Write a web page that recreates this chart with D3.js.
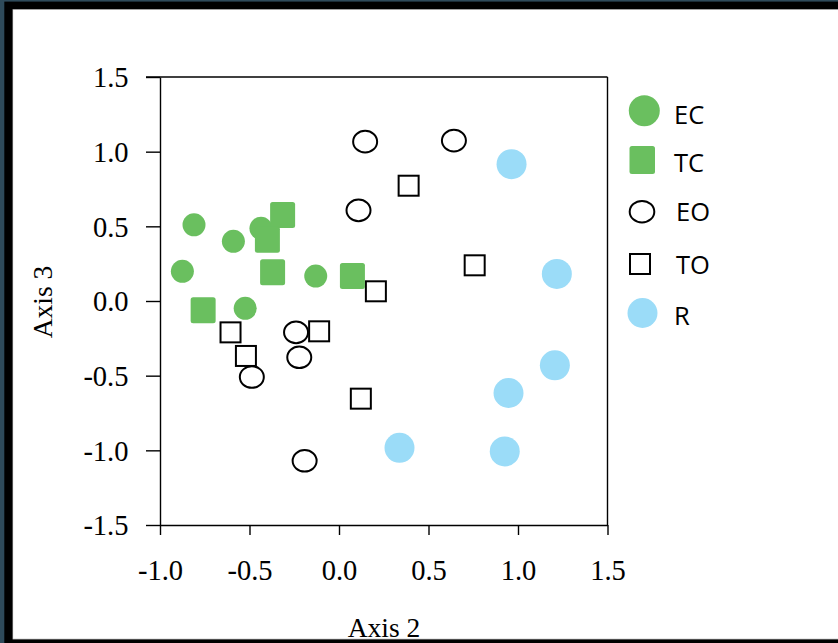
<!DOCTYPE html>
<html><head><meta charset="utf-8">
<script src="https://cdn.jsdelivr.net/npm/d3@7"></script>
<style>html,body{margin:0;padding:0;background:#fff;}svg{display:block;}</style>
</head><body>
<script>
// ---- data ----
const ecX = [-0.81, -0.59, -0.436, -0.875, -0.13, -0.524];
const ecY = [0.51, 0.40, 0.487, 0.199, 0.167, -0.049];
const tcX = [-0.315, -0.40, -0.371, 0.075, -0.759];
const tcY = [0.576, 0.41, 0.192, 0.167, -0.062];
const eoX = [0.146, 0.642, 0.109, -0.24, -0.222, -0.487, -0.192];
const eoY = [1.067, 1.074, 0.607, -0.21, -0.377, -0.509, -1.07];
const toX = [0.389, 0.758, 0.206, -0.606, -0.52, -0.111, 0.122];
const toY = [0.772, 0.239, 0.065, -0.21, -0.368, -0.203, -0.654];
const rX = [0.964, 1.217, 1.206, 0.947, 0.338, 0.926];
const rY = [0.916, 0.181, -0.431, -0.616, -0.983, -1.007];
const xTicks = [-1.0, -0.5, 0.0, 0.5, 1.0, 1.5];
const yTicks = [-1.5, -1.0, -0.5, 0.0, 0.5, 1.0, 1.5];
const legendLabels = ["EC", "TC", "EO", "TO", "R"];
const xTitle = "Axis 2";
const yTitle = "Axis 3";

const GREEN = "#6abf5f", BLUE = "#9bdcf8";
const W = 838, H = 643;
const svg = d3.select("body").append("svg").attr("width", W).attr("height", H);

// frame
svg.append("rect").attr("x",0).attr("y",0).attr("width",W).attr("height",H).attr("fill","#2e4a5a");
svg.append("rect").attr("x",4.3).attr("y",1.6).attr("width",W).attr("height",H).attr("fill","#000");
svg.append("rect").attr("x",12.6).attr("y",9.2).attr("width",W).attr("height",630.2).attr("fill","#c8c8c8");
svg.append("rect").attr("x",13.2).attr("y",10).attr("width",W).attr("height",628.6).attr("fill","#fff");

const x = d3.scaleLinear().domain([-1, 1.5]).range([160, 607.5]);
const y = d3.scaleLinear().domain([-1.5, 1.5]).range([525, 77]);
const fmt = v => d3.format(".1f")(v).replace("\u2212", "-");

const serif = "'Liberation Serif','Times New Roman',serif";

// axes
const gy = svg.append("g").attr("transform", "translate(160,0)")
  .call(d3.axisLeft(y).tickValues(yTicks).tickFormat(fmt).tickSize(14).tickSizeOuter(0));
gy.selectAll("text").attr("x", -31.5).attr("dy", "0.34em")
  .attr("font-family", serif).attr("font-size", 28.5).attr("fill", "#000");
const gx = svg.append("g").attr("transform", "translate(0,525)")
  .call(d3.axisBottom(x).tickValues(xTicks).tickFormat(fmt).tickSize(10).tickSizeOuter(0));
gx.selectAll("text").attr("y", 55).attr("dy", 0)
  .attr("font-family", serif).attr("font-size", 28.5).attr("fill", "#000");
svg.selectAll(".domain, .tick line").attr("stroke", "#000").attr("stroke-width", 1.4);

// top & right box lines
svg.append("line").attr("x1", 146).attr("x2", x(1.5)).attr("y1", y(1.5)).attr("y2", y(1.5))
  .attr("stroke", "#000").attr("stroke-width", 1.4);
svg.append("line").attr("x1", x(1.5)).attr("x2", x(1.5)).attr("y1", y(1.5)).attr("y2", y(-1.5))
  .attr("stroke", "#000").attr("stroke-width", 1.4);

// titles
svg.append("text").attr("x", 384).attr("y", 637).attr("text-anchor", "middle")
  .attr("font-family", serif).attr("font-size", 27.5).attr("fill", "#000").text(xTitle);
svg.append("text").attr("transform", "translate(51.5,302) rotate(-90)").attr("text-anchor", "middle")
  .attr("font-family", serif).attr("font-size", 27.5).attr("fill", "#000").text(yTitle);

const zip = (a, b) => a.map((v, i) => [v, b[i]]);
const g = svg.append("g");

// EO open circles
g.selectAll(".eo").data(zip(eoX, eoY)).join("ellipse")
  .attr("cx", d => x(d[0])).attr("cy", d => y(d[1])).attr("rx", 12).attr("ry", 10.8)
  .attr("fill", "#fff").attr("stroke", "#000").attr("stroke-width", 2);
// TO open squares
g.selectAll(".to").data(zip(toX, toY)).join("rect")
  .attr("x", d => x(d[0]) - 10).attr("y", d => y(d[1]) - 10).attr("width", 20).attr("height", 20)
  .attr("fill", "#fff").attr("stroke", "#000").attr("stroke-width", 2);
// EC green circles
g.selectAll(".ec").data(zip(ecX, ecY)).join("circle")
  .attr("cx", d => x(d[0])).attr("cy", d => y(d[1])).attr("r", 11.5).attr("fill", GREEN);
// TC green squares
g.selectAll(".tc").data(zip(tcX, tcY)).join("rect")
  .attr("x", d => x(d[0]) - 12.5).attr("y", d => y(d[1]) - 13).attr("width", 25).attr("height", 26)
  .attr("rx", 2.5).attr("fill", GREEN);
// R blue circles
g.selectAll(".r").data(zip(rX, rY)).join("circle")
  .attr("cx", d => x(d[0])).attr("cy", d => y(d[1])).attr("r", 15).attr("fill", BLUE);

// legend
const sans = "'Open Sans','Noto Sans',sans-serif";
const lg = svg.append("g");
const ly = [110.7, 160, 211.7, 264, 313];
const lbase = [123.5, 172, 220.5, 274, 325];
const lx = [674, 674, 676, 676, 674];
lg.append("circle").attr("cx", 644.3).attr("cy", ly[0]).attr("r", 15.5).attr("fill", GREEN);
lg.append("rect").attr("x", 629.5).attr("y", ly[1] - 14).attr("width", 25.5).attr("height", 28).attr("rx", 2.5).attr("fill", GREEN);
lg.append("ellipse").attr("cx", 642).attr("cy", ly[2]).attr("rx", 12.3).attr("ry", 10.8)
  .attr("fill", "#fff").attr("stroke", "#000").attr("stroke-width", 2);
lg.append("rect").attr("x", 630).attr("y", ly[3] - 10).attr("width", 20).attr("height", 20)
  .attr("fill", "#fff").attr("stroke", "#000").attr("stroke-width", 2);
lg.append("circle").attr("cx", 642.5).attr("cy", ly[4]).attr("r", 15).attr("fill", BLUE);
lg.selectAll("text").data(legendLabels).join("text")
  .attr("x", (d, i) => lx[i]).attr("y", (d, i) => lbase[i])
  .attr("font-family", sans).attr("font-size", 25.5).attr("fill", "#000").text(d => d);
</script>
</body></html>
